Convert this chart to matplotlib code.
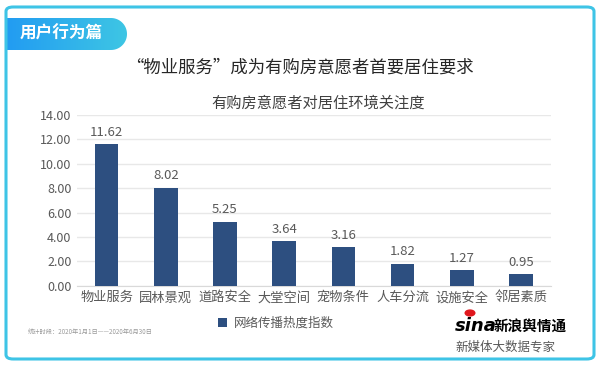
import matplotlib.pyplot as plt
import numpy as np
from matplotlib.patches import FancyBboxPatch, Circle, Polygon
from matplotlib.colors import LinearSegmentedColormap

plt.rcParams['font.family'] = ['Noto Sans CJK SC', 'DejaVu Sans']

categories = ['物业服务', '园林景观', '道路安全', '大堂空间', '宠物条件', '人车分流', '设施安全', '邻居素质']
values = [11.62, 8.02, 5.25, 3.64, 3.16, 1.82, 1.27, 0.95]
yticks = [0, 2, 4, 6, 8, 10, 12, 14]
series_name = '网络传播热度指数'

bar_color = '#2d4f80'
text_grey = '#595959'

fig = plt.figure(figsize=(6, 3.65), dpi=100)
fig.patch.set_facecolor('white')

# outer rounded frame
frame = FancyBboxPatch((6/600, 6/365), 588/600, 352/365,
                       boxstyle='round,pad=0,rounding_size=0.012',
                       transform=fig.transFigure, fill=False,
                       edgecolor='#3ec4e6', linewidth=2.2)
fig.patches.append(frame)

# gradient badge top-left, axes units are pixels
bw, bh = 120, 32
bax = fig.add_axes([7/600, 1 - 50/365, bw/600, bh/365])
grad = np.linspace(0, 1, 256).reshape(1, -1)
cmap = LinearSegmentedColormap.from_list('badge', ['#229cf2', '#3ec6e4'])
img = bax.imshow(grad, aspect='auto', cmap=cmap, extent=[0, bw, 0, bh])
r = bh / 2
theta = np.linspace(-np.pi / 2, np.pi / 2, 40)
pts = [(0, 0), (bw - r, 0)] + [(bw - r + r * np.cos(t), r + r * np.sin(t)) for t in theta] + [(0, bh)]
clip = Polygon(pts, closed=True, transform=bax.transData)
img.set_clip_path(clip)
bax.set_xlim(0, bw)
bax.set_ylim(0, bh)
bax.axis('off')
bax.text(13, r, '用户行为篇', color='white', fontsize=12, fontweight='bold',
         ha='left', va='center')

fig.text(0.5, 1 - 68/365, '“物业服务”成为有购房意愿者首要居住要求', ha='center', va='center',
         fontsize=12.5, fontweight=500, color='#262626')

ax = fig.add_axes([77/600, 1 - 285.7/365, 473.6/600, 170.7/365])
x = np.arange(len(categories))
ax.bar(x, values, width=0.4, color=bar_color, label=series_name, zorder=3)
for xi, v in zip(x, values):
    ax.text(xi, v + 0.45, f'{v:.2f}', ha='center', va='bottom', fontsize=9.5, color=text_grey)

ax.set_xlim(-0.5, len(categories) - 0.5)
ax.set_ylim(0, 14)
ax.set_yticks(yticks)
ax.set_yticklabels([f'{t:.2f}' for t in yticks], fontsize=9, color=text_grey)
ax.set_xticks(x)
ax.set_xticklabels(categories, fontsize=9.5, color=text_grey)
ax.tick_params(length=0, pad=4)
ax.grid(axis='y', color='#e8e8e8', linewidth=1, zorder=0)
for s in ax.spines.values():
    s.set_visible(False)
ax.spines['bottom'].set_visible(True)
ax.spines['bottom'].set_color('#d9d9d9')

ax.set_title('有购房意愿者对居住环境关注度', fontsize=11, color='#404040', pad=5, x=0.51)

leg = ax.legend(loc='upper center', bbox_to_anchor=(0.42, -0.115), frameon=False,
                fontsize=9, handlelength=0.7, handleheight=0.7, handletextpad=0.5)
for t in leg.get_texts():
    t.set_color(text_grey)

fig.text(28/600, 1 - 332/365, '统计时段：2020年1月1日——2020年6月30日', fontsize=4.5,
         color='#999999', va='center')

# sina logo approximation
fig.patches.append(Circle((470/600, 1 - 313/365), 0.008, transform=fig.transFigure,
                          color='#e0161c'))
fig.text(455/600, 1 - 326/365, 'sina', fontsize=13, fontweight='bold', style='italic',
         color='black', va='center', family='DejaVu Sans')
fig.text(494/600, 1 - 326/365, '新浪舆情通', fontsize=10.5, fontweight='bold',
         color='black', va='center')
fig.text(505/600, 1 - 347/365, '新媒体大数据专家', fontsize=9, color=text_grey,
         ha='center', va='center')

fig.savefig('out.png', dpi=100)
